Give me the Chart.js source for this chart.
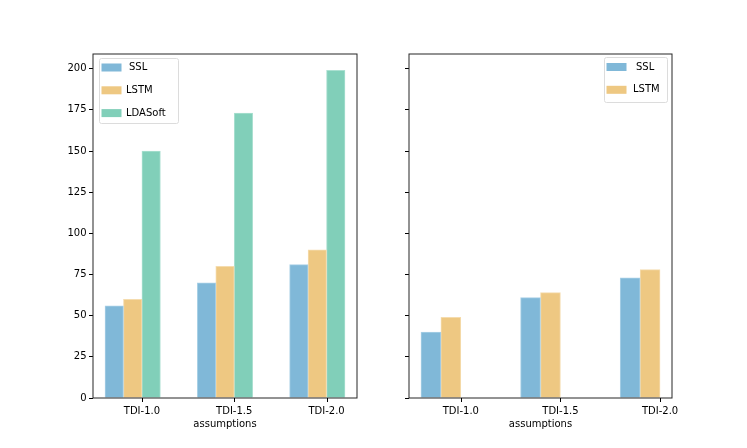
<!DOCTYPE html>
<html><head><meta charset="utf-8">
<script src="https://cdn.jsdelivr.net/npm/chart.js@4"></script>
<style>
body{margin:0;background:#fff}
#wrap{position:relative;width:747px;height:448px;background:#fff}
canvas{position:absolute;top:0}
</style>
</head><body>
<div id="wrap">
<canvas id="c1" width="380" height="448" style="left:0;width:380px;height:448px"></canvas>
<canvas id="c2" width="367" height="448" style="left:380px;width:367px;height:448px"></canvas>
</div>
<script>
// ---- data ----
const categories = ['TDI-1.0', 'TDI-1.5', 'TDI-2.0'];
const yTickValues = [0, 25, 50, 75, 100, 125, 150, 175, 200];
const leftSSL = [56, 70, 81];
const leftLSTM = [60, 80, 90];
const leftLDASoft = [150, 173, 199];
const rightSSL = [40, 61, 73];
const rightLSTM = [49, 64, 78];
const seriesNames = ['SSL', 'LSTM', 'LDASoft'];
const xAxisTitle = 'assumptions';

// ---- styling ----
const COLORS = { SSL: '#80b8d8', LSTM: '#eec882', LDASoft: '#81cfb9' };
const EDGES = { SSL: '#a9d0e6', LSTM: '#f5dcae', LDASoft: '#abe0d1' };
const SLOT_OFFSETS = [-0.3, -0.1, 0.1]; // bar centre offsets from category tick (width 0.2)
const BAR_W = 0.2;

Chart.defaults.font.family = "'DejaVu Sans', sans-serif";
Chart.defaults.font.size = 10;
Chart.defaults.color = '#000';
Chart.defaults.devicePixelRatio = 1;

const allValues = [].concat(leftSSL, leftLSTM, leftLDASoft, rightSSL, rightLSTM);
const yMax = Math.max(...allValues) * 1.05;

function xRange(nSlotsUsed) {
  const lo = SLOT_OFFSETS[0] - BAR_W / 2;
  const hi = (categories.length - 1) + SLOT_OFFSETS[nSlotsUsed - 1] + BAR_W / 2;
  const m = (hi - lo) * 0.05;
  return [lo - m, hi + m];
}

function makeDataset(name, slot, values) {
  return {
    label: name,
    data: values.map((v, i) => ({ x: i + SLOT_OFFSETS[slot], y: v })),
    backgroundColor: COLORS[name],
    borderColor: EDGES[name],
    borderWidth: 1,
    borderSkipped: 'bottom',
    barPercentage: 1,
    categoryPercentage: 1,
    grouped: false
  };
}

const framePlugin = {
  id: 'frame',
  afterDatasetsDraw(chart) {
    const { ctx, chartArea: a } = chart;
    ctx.save();
    ctx.strokeStyle = '#262626';
    ctx.lineWidth = 1;
    ctx.strokeRect(a.left, a.top, a.right - a.left, a.bottom - a.top);
    // x tick marks
    const xs = chart.scales.x;
    ctx.strokeStyle = '#000';
    ctx.beginPath();
    xs.ticks.forEach(t => {
      const px = Math.round(xs.getPixelForValue(t.value)) + 0.5;
      ctx.moveTo(px, a.bottom);
      ctx.lineTo(px, a.bottom + 4);
    });
    ctx.stroke();
    ctx.restore();
  }
};

const legendPlugin = {
  id: 'mplLegend',
  afterDraw(chart, args, opts) {
    const { ctx, chartArea: a } = chart;
    const x = opts.anchor === 'right' ? a.right - opts.dx - opts.w : a.left + opts.dx;
    const y = a.top + opts.dy;
    ctx.save();
    ctx.beginPath();
    ctx.roundRect(x + 0.5, y + 0.5, opts.w, opts.h, 2);
    ctx.fillStyle = 'rgba(255,255,255,0.8)';
    ctx.fill();
    ctx.strokeStyle = '#dcdcdc';
    ctx.lineWidth = 1;
    ctx.stroke();
    ctx.font = "10px 'DejaVu Sans'";
    ctx.textBaseline = 'middle';
    chart.data.datasets.forEach((ds, i) => {
      const cy = y + opts.row0 + i * opts.rowGap;
      ctx.fillStyle = ds.backgroundColor;
      ctx.fillRect(x + 2.5, cy - 4, 20, 8);
      ctx.fillStyle = '#000';
      ctx.fillText(ds.label, x + opts.textX + (i === 0 ? opts.firstShift : 0), cy);
    });
    ctx.restore();
  }
};

function makeChart(canvasId, datasets, cfg) {
  const [xmin, xmax] = xRange(cfg.slots);
  return new Chart(document.getElementById(canvasId), {
    type: 'bar',
    data: { datasets },
    plugins: [framePlugin, legendPlugin],
    options: {
      responsive: false,
      animation: false,
      layout: { padding: { left: 0, right: cfg.padRight, top: 54, bottom: 0 } },
      plugins: {
        legend: { display: false },
        tooltip: { enabled: false },
        mplLegend: cfg.legend
      },
      scales: {
        x: {
          type: 'linear',
          min: xmin, max: xmax,
          offset: false,
          afterBuildTicks: s => { s.ticks = categories.map((_, i) => ({ value: i })); },
          afterFit: s => { s.height = 50; },
          ticks: {
            callback: v => categories[v],
            maxRotation: 0, autoSkip: false, padding: 3, color: '#000'
          },
          grid: { display: false, tickLength: 4 },
          border: { display: false },
          title: { display: true, text: xAxisTitle, padding: { top: 0, bottom: 18 }, color: '#000' }
        },
        y: {
          min: 0, max: yMax,
          afterBuildTicks: s => { s.ticks = yTickValues.map(v => ({ value: v })); },
          afterFit: s => { s.width = cfg.yWidth; },
          ticks: {
            callback: cfg.showYLabels ? (v => String(v)) : (() => ''),
            padding: 2.5, color: '#000'
          },
          grid: { display: true, offset: false, drawOnChartArea: false, drawTicks: true, tickLength: 4, color: '#000' },
          border: { display: false }
        }
      }
    }
  });
}

makeChart('c1', [
  makeDataset('SSL', 0, leftSSL),
  makeDataset('LSTM', 1, leftLSTM),
  makeDataset('LDASoft', 2, leftLDASoft)
], {
  slots: 3, padRight: 23, yWidth: 93, showYLabels: true,
  legend: { anchor: 'left', dx: 6, dy: 4, w: 79, h: 65, row0: 9.5, rowGap: 22.8, textX: 27, firstShift: 3 }
});

makeChart('c2', [
  makeDataset('SSL', 0, rightSSL),
  makeDataset('LSTM', 1, rightLSTM)
], {
  slots: 2, padRight: 75, yWidth: 29, showYLabels: false,
  legend: { anchor: 'right', dx: 5, dy: 3, w: 63, h: 45, row0: 10, rowGap: 22.8, textX: 29, firstShift: 3 }
});
</script>
</body></html>
